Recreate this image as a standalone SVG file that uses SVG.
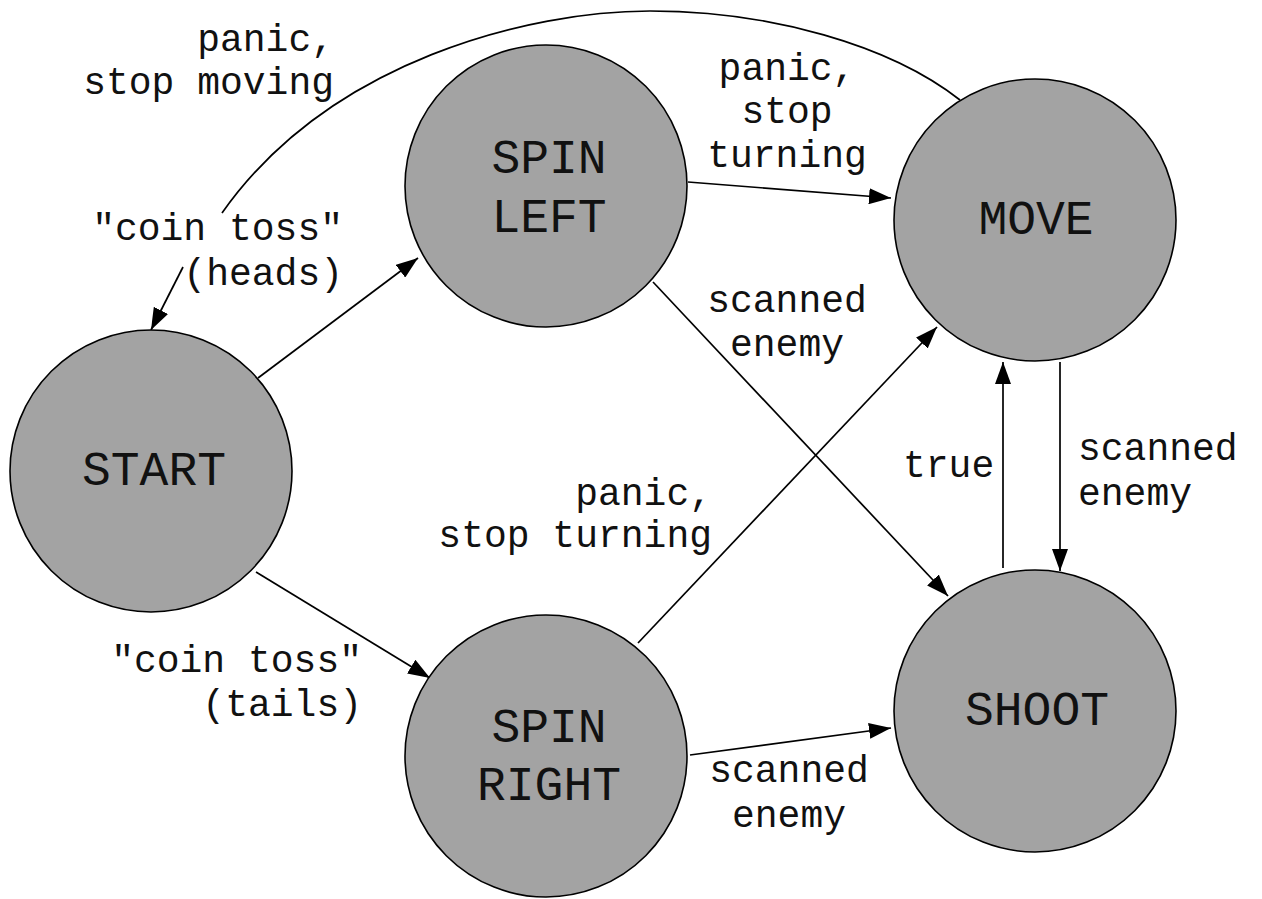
<svg xmlns="http://www.w3.org/2000/svg" width="1262" height="899" viewBox="0 0 1262 899">
  <style>
    .state circle { fill: #a3a3a3; stroke: #000; stroke-width: 1.6; }
    .state text { font-family: "Liberation Mono", "Courier New", monospace; font-size: 48px; fill: #111; text-anchor: middle; }
    .edge { fill: none; stroke: #000; stroke-width: 1.7; }
    .lbl { font-family: "Liberation Mono", "Courier New", monospace; font-size: 38px; fill: #111; }
    .mid { text-anchor: middle; }
    .end { text-anchor: end; }
  </style>
  <defs>
    <marker id="arrow" markerWidth="22" markerHeight="16" refX="22" refY="8" orient="auto" markerUnits="userSpaceOnUse">
      <path d="M0,0 L22,8 L0,16 z" fill="#000"/>
    </marker>
  </defs>
  <rect width="1262" height="899" fill="#fff"/>

  <!-- transitions -->
  <g id="connectors">
    <line class="edge" x1="258" y1="378" x2="418" y2="258" marker-end="url(#arrow)"/>
    <line class="edge" x1="256" y1="572" x2="430" y2="678" marker-end="url(#arrow)"/>
    <line class="edge" x1="688" y1="182" x2="891" y2="198" marker-end="url(#arrow)"/>
    <line class="edge" x1="653" y1="282" x2="948" y2="596" marker-end="url(#arrow)"/>
    <line class="edge" x1="638" y1="643" x2="937" y2="327" marker-end="url(#arrow)"/>
    <line class="edge" x1="690" y1="755" x2="891" y2="728" marker-end="url(#arrow)"/>
    <line class="edge" x1="1003" y1="568" x2="1003" y2="362" marker-end="url(#arrow)"/>
    <line class="edge" x1="1060" y1="362" x2="1060" y2="571" marker-end="url(#arrow)"/>
    <!-- MOVE back to START, broken around its label -->
    <path class="edge" d="M960,100 C890,45 770,11 650,11 C530,11 330,60 222,213"/>
    <line class="edge" x1="183" y1="267" x2="151" y2="330" marker-end="url(#arrow)"/>
  </g>

  <!-- transition labels -->
  <g id="labels">
    <text class="lbl end" x="334" y="51">panic,</text>
    <text class="lbl end" x="334" y="94">stop moving</text>
    <text class="lbl end" x="343" y="240">"coin toss"</text>
    <text class="lbl end" x="343" y="285">(heads)</text>
    <text class="lbl mid" x="787" y="80">panic,</text>
    <text class="lbl mid" x="787" y="123">stop</text>
    <text class="lbl mid" x="787" y="167">turning</text>
    <text class="lbl mid" x="787" y="312">scanned</text>
    <text class="lbl mid" x="787" y="356">enemy</text>
    <text class="lbl end" x="712" y="505">panic,</text>
    <text class="lbl end" x="712" y="547">stop turning</text>
    <text class="lbl end" x="362" y="672">"coin toss"</text>
    <text class="lbl end" x="362" y="716">(tails)</text>
    <text class="lbl mid" x="789" y="782">scanned</text>
    <text class="lbl mid" x="789" y="827">enemy</text>
    <text class="lbl" x="903" y="477">true</text>
    <text class="lbl" x="1078" y="460">scanned</text>
    <text class="lbl" x="1078" y="505">enemy</text>
  </g>

  <!-- states -->
  <g id="start" class="state">
    <circle cx="151" cy="471" r="141"/>
    <text x="154" y="485">START</text>
  </g>
  <g id="spin-left" class="state">
    <circle cx="546" cy="186" r="141"/>
    <text x="549" y="173">SPIN</text>
    <text x="549" y="232">LEFT</text>
  </g>
  <g id="move" class="state">
    <circle cx="1035" cy="220" r="141"/>
    <text x="1036" y="234">MOVE</text>
  </g>
  <g id="spin-right" class="state">
    <circle cx="546" cy="756" r="141"/>
    <text x="549" y="742">SPIN</text>
    <text x="549" y="800">RIGHT</text>
  </g>
  <g id="shoot" class="state">
    <circle cx="1035" cy="711" r="141"/>
    <text x="1037" y="725">SHOOT</text>
  </g>
</svg>
